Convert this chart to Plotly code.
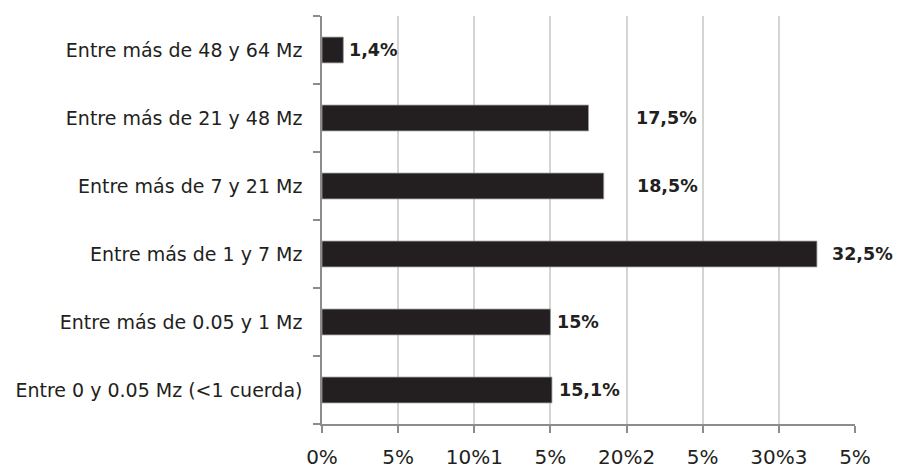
import plotly.graph_objects as go

# Farm-size categories, listed bottom to top as drawn on the y axis
categories = [
    "Entre 0 y 0.05 Mz (<1 cuerda)",
    "Entre más de 0.05 y 1 Mz",
    "Entre más de 1 y 7 Mz",
    "Entre más de 7 y 21 Mz",
    "Entre más de 21 y 48 Mz",
    "Entre más de 48 y 64 Mz",
]
percentages = [15.1, 15, 32.5, 18.5, 17.5, 1.4]

# x-axis ticks and their printed labels
tick_values = [0, 5, 10, 15, 20, 25, 30, 35]
tick_labels = ["0%", "5%", "10%1", "5%", "20%2", "5%", "30%3", "5%"]

# horizontal gap (px) between each bar end and its value label
label_gaps = [5, 5, 13, 31, 45, 4]

BAR_COLOR = "#231f20"
TEXT_COLOR = "#231f20"
AXIS_COLOR = "#8c8c8c"
GRID_COLOR = "#d4d4d4"
FONT = "DejaVu Sans, Verdana, sans-serif"


def pct_label(v):
    return f"{v:g}".replace(".", ",") + "%"


fig = go.Figure(
    go.Bar(
        x=percentages,
        y=categories,
        orientation="h",
        width=0.38,
        marker=dict(color=BAR_COLOR, line=dict(color="#9a9a9a", width=0.8)),
        hoverinfo="skip",
    )
)

for cat, val, gap in zip(categories, percentages, label_gaps):
    fig.add_annotation(
        x=val,
        y=cat,
        text=pct_label(val),
        showarrow=False,
        xanchor="left",
        yanchor="middle",
        xshift=gap,
        font=dict(family=FONT, size=17.5, color=TEXT_COLOR, weight="bold"),
    )

fig.update_layout(
    width=898,
    height=470,
    margin=dict(l=322, r=43, t=16, b=46, autoexpand=False),
    paper_bgcolor="white",
    plot_bgcolor="white",
    showlegend=False,
    font=dict(family=FONT, color=TEXT_COLOR),
)

fig.update_xaxes(
    range=[0, 35],
    tickvals=tick_values,
    ticktext=tick_labels,
    showgrid=True,
    gridcolor=GRID_COLOR,
    gridwidth=1.5,
    zeroline=False,
    showline=True,
    linecolor=AXIS_COLOR,
    linewidth=1.5,
    ticks="outside",
    ticklen=7,
    tickcolor=AXIS_COLOR,
    tickwidth=1.5,
    tickfont=dict(family=FONT, size=20, color=TEXT_COLOR),
    ticklabelstandoff=7,
    automargin=False,
    fixedrange=True,
)

fig.update_yaxes(
    type="category",
    categoryorder="array",
    categoryarray=categories,
    range=[-0.5, 5.5],
    showgrid=False,
    zeroline=False,
    showline=True,
    linecolor=AXIS_COLOR,
    linewidth=1.5,
    ticks="outside",
    tickson="boundaries",
    ticklen=7,
    tickcolor=AXIS_COLOR,
    tickwidth=1.5,
    tickfont=dict(family=FONT, size=19, color=TEXT_COLOR),
    ticklabelstandoff=14,
    automargin=False,
    fixedrange=True,
)

fig.write_html("out.html")
